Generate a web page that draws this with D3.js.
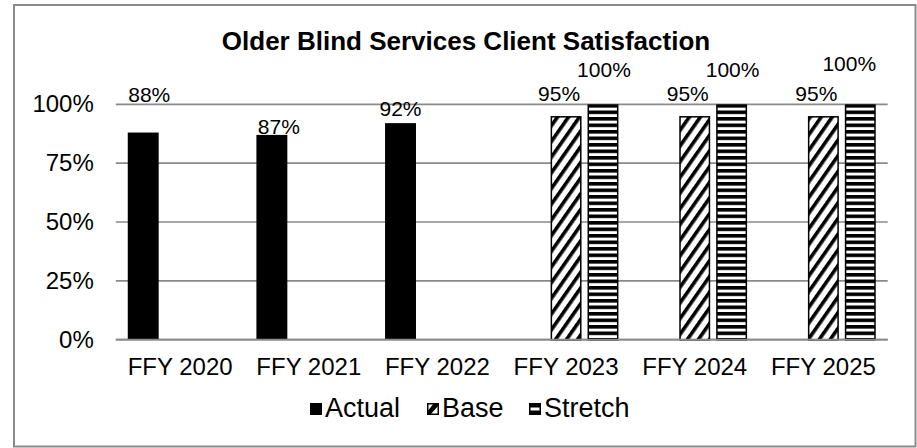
<!DOCTYPE html>
<html>
<head>
<meta charset="utf-8">
<script src="https://cdn.jsdelivr.net/npm/d3@7"></script>
<style>
  html, body { margin: 0; padding: 0; background: #fff; }
  svg { display: block; font-family: "Liberation Sans", Arial, sans-serif; }
</style>
</head>
<body>
<svg id="chart" width="917" height="448"></svg>
<script>
// ---- data ----
const categories = ["FFY 2020", "FFY 2021", "FFY 2022", "FFY 2023", "FFY 2024", "FFY 2025"];
const seriesNames = ["Actual", "Base", "Stretch"];
const actualValues = [0.88, 0.87, 0.92, null, null, null];
const baseValues = [null, null, null, 0.95, 0.95, 0.95];
const stretchValues = [null, null, null, 1.00, 1.00, 1.00];
const yTickValues = [0, 0.25, 0.5, 0.75, 1];
const titleText = "Older Blind Services Client Satisfaction";

// label nudges (hand-placed labels in the original), [dx, dy] from bar top centre
const labelNudge = {
  Actual: [[6, -31], [7, -1], [0, -7], [0, 0], [0, 0], [0, 0]],
  Base: [[0, 0], [0, 0], [0, 0], [-7, -15], [-7, -15], [-7, -15]],
  Stretch: [[0, 0], [0, 0], [0, 0], [1, -27], [1, -27], [-11, -33]]
};

const FS_AXIS = 24, FS_LABEL = 21, FS_LEGEND = 27, FS_TITLE = 26;
const GRID = "#8a8a8a";
const svg = d3.select("#chart");

// defs: patterns
const defs = svg.append("defs");
const pBase = defs.append("pattern")
  .attr("id", "patBase").attr("patternUnits", "userSpaceOnUse")
  .attr("width", 9).attr("height", 9)
  .attr("patternTransform", "rotate(35)");
pBase.append("rect").attr("width", 9).attr("height", 9).attr("fill", "#fff");
pBase.append("rect").attr("width", 3.6).attr("height", 9).attr("fill", "#000");

const pStretch = defs.append("pattern")
  .attr("id", "patStretch").attr("patternUnits", "userSpaceOnUse")
  .attr("width", 8).attr("height", 6.5);
pStretch.append("rect").attr("width", 8).attr("height", 6.5).attr("fill", "#fff");
pStretch.append("rect").attr("width", 8).attr("height", 3.6).attr("fill", "#000");

const fills = { Actual: "#000", Base: "url(#patBase)", Stretch: "url(#patStretch)" };
const strokes = { Actual: "none", Base: "#000", Stretch: "#000" };
const valuesBySeries = { Actual: actualValues, Base: baseValues, Stretch: stretchValues };

// outer border
svg.append("rect")
  .attr("x", 14).attr("y", 5).attr("width", 901.5).attr("height", 441.5)
  .attr("fill", "none").attr("stroke", GRID).attr("stroke-width", 2);

// scales
const x = d3.scaleBand().domain(categories).range([115.8, 887.7]).padding(0);
const xs = d3.scaleBand().domain(seriesNames).range([0, x.bandwidth()])
  .paddingInner(0.162).paddingOuter(0.324);
const y = d3.scaleLinear().domain([0, 1]).range([339.7, 104.3]);

// gridlines
svg.append("g").selectAll("line").data(yTickValues).join("line")
  .attr("x1", x.range()[0]).attr("x2", x.range()[1])
  .attr("y1", d => y(d)).attr("y2", d => y(d))
  .attr("stroke", GRID).attr("stroke-width", 1.7);

// y axis labels
const yAxis = d3.axisLeft(y).tickValues(yTickValues).tickFormat(d3.format(".0%")).tickSize(0).tickPadding(22);
const gy = svg.append("g").attr("transform", `translate(${x.range()[0]},0)`).call(yAxis);
gy.select(".domain").remove();
gy.selectAll("text").attr("font-size", FS_AXIS).attr("fill", "#000")
  .attr("font-family", "Liberation Sans, Arial, sans-serif");

// x axis labels
const xAxis = d3.axisBottom(x).tickSize(0).tickPadding(18.5);
const gx = svg.append("g").attr("transform", `translate(0,${y(0)})`).call(xAxis);
gx.select(".domain").remove();
gx.selectAll("text").attr("font-size", FS_AXIS).attr("fill", "#000")
  .attr("font-family", "Liberation Sans, Arial, sans-serif");

// bars
const fmt = d3.format(".0%");
seriesNames.forEach(s => {
  const vals = valuesBySeries[s];
  const data = categories.map((c, i) => ({ c, i, v: vals[i] })).filter(d => d.v != null);
  const inset = s === "Actual" ? 0 : 0.75;
  const g = svg.append("g");
  g.selectAll("rect").data(data).join("rect")
    .attr("x", d => x(d.c) + xs(s) + inset)
    .attr("y", d => y(d.v) + inset)
    .attr("width", xs.bandwidth() - 2 * inset)
    .attr("height", d => y(0) - y(d.v) - inset)
    .attr("fill", fills[s]).attr("stroke", strokes[s]).attr("stroke-width", 1.5);
  g.selectAll("text").data(data).join("text")
    .attr("x", d => x(d.c) + xs(s) + xs.bandwidth() / 2 + labelNudge[s][d.i][0])
    .attr("y", d => y(d.v) + labelNudge[s][d.i][1])
    .attr("text-anchor", "middle").attr("font-size", FS_LABEL).attr("fill", "#000")
    .text(d => fmt(d.v));
});

// baseline on top
svg.append("line")
  .attr("x1", x.range()[0]).attr("x2", x.range()[1])
  .attr("y1", y(0)).attr("y2", y(0))
  .attr("stroke", GRID).attr("stroke-width", 1.7);

// title
svg.append("text").attr("x", 466).attr("y", 50).attr("text-anchor", "middle")
  .attr("font-size", FS_TITLE).attr("font-weight", "bold").attr("fill", "#000").text(titleText);

// legend
const legendItems = [
  { name: "Actual", x: 310 },
  { name: "Base", x: 427 },
  { name: "Stretch", x: 529 }
];
const lg = svg.append("g");
const li = lg.selectAll("g").data(legendItems).join("g")
  .attr("transform", d => `translate(${d.x},0)`);
const ms = 12, my = 403;
li.each(function(d) {
  const g = d3.select(this);
  if (d.name === "Actual") {
    g.append("rect").attr("x", 0).attr("y", my).attr("width", ms).attr("height", ms).attr("fill", "#000");
  } else if (d.name === "Base") {
    g.append("rect").attr("x", 0.75).attr("y", my + 0.75).attr("width", ms - 1.5).attr("height", ms - 1.5)
      .attr("fill", "#fff").attr("stroke", "#000").attr("stroke-width", 1.5);
    g.append("polygon")
      .attr("points", `${ms - 5},${my} ${ms},${my} ${ms},${my + 2} ${3},${my + ms} 0,${my + ms} 0,${my + ms - 3}`)
      .attr("fill", "#000");
  } else {
    g.append("rect").attr("x", 0).attr("y", my).attr("width", ms).attr("height", ms).attr("fill", "#000");
    g.append("rect").attr("x", 1.5).attr("y", my + 4.5).attr("width", ms - 3).attr("height", 3).attr("fill", "#fff");
  }
  g.append("text").attr("x", ms + 3).attr("y", my + 14).attr("font-size", FS_LEGEND).attr("fill", "#000")
    .text(d.name);
});
</script>
</body>
</html>
